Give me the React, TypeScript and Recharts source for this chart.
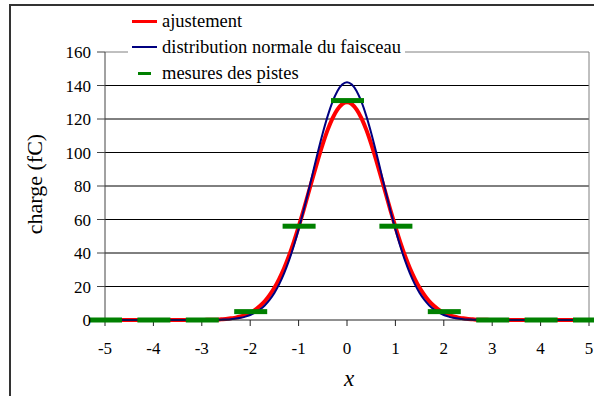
import { ComposedChart, Line, Scatter, XAxis, YAxis, CartesianGrid, ReferenceLine } from "recharts";

const xTicks = [-5, -4, -3, -2, -1, 0, 1, 2, 3, 4, 5];
const yTicks = [0, 20, 40, 60, 80, 100, 120, 140, 160];

// x positions for the two curves
const curveX = [
  -5, -4, -3, -2.9, -2.8, -2.7, -2.6, -2.5, -2.4, -2.3, -2.2, -2.1, -2, -1.9, -1.8, -1.7, -1.6, -1.5, -1.4, -1.3, -1.2, -1.1,
  -1, -0.9, -0.8, -0.7, -0.6, -0.5, -0.4, -0.3, -0.2, -0.1, 0, 0.1, 0.2, 0.3, 0.4, 0.5, 0.6, 0.7, 0.8, 0.9, 1, 1.1, 1.2,
  1.3, 1.4, 1.5, 1.6, 1.7, 1.8, 1.9, 2, 2.1, 2.2, 2.3, 2.4, 2.5, 2.6, 2.7, 2.8, 2.9, 3, 4, 5,
];

// fit (red)
const fitY = [
  0, 0, 0, 0.1, 0.1, 0.2, 0.4, 0.6, 1.0, 1.4, 2.1, 3.1, 4.3, 6.0, 8.3, 11.1, 14.8, 19.2, 24.6, 30.9, 38.2, 46.5,
  55.6, 65.3, 75.5, 85.7, 95.7, 105.1, 113.5, 120.4, 125.6, 128.9, 130, 128.9, 125.6, 120.4, 113.5, 105.1, 95.7, 85.7, 75.5, 65.3, 55.6, 46.5, 38.2,
  30.9, 24.6, 19.2, 14.8, 11.1, 8.3, 6.0, 4.3, 3.1, 2.1, 1.4, 1.0, 0.6, 0.4, 0.2, 0.1, 0.1, 0, 0, 0,
];

// beam normal distribution (blue)
const beamY = [
  0, 0, 0, 0, 0.1, 0.1, 0.2, 0.3, 0.5, 0.9, 1.3, 2.0, 3.0, 4.4, 6.2, 8.7, 12.0, 16.2, 21.4, 27.8, 35.4, 44.2,
  54.1, 65.0, 76.6, 88.5, 100.4, 111.6, 121.7, 130.2, 136.6, 140.6, 142, 140.6, 136.6, 130.2, 121.7, 111.6, 100.4, 88.5, 76.6, 65.0, 54.1, 44.2, 35.4,
  27.8, 21.4, 16.2, 12.0, 8.7, 6.2, 4.4, 3.0, 2.0, 1.3, 0.9, 0.5, 0.3, 0.2, 0.1, 0.1, 0, 0, 0, 0,
];

// track measurements (green)
const trackX = [-5, -4, -3, -2, -1, 0, 1, 2, 3, 4, 5];
const trackY = [0, 0, 0, 5, 56, 131, 56, 5, 0, 0, 0];

const fitData = curveX.map((x, i) => ({ x, y: fitY[i] }));
const beamData = curveX.map((x, i) => ({ x, y: beamY[i] }));
const trackData = trackX.map((x, i) => ({ x, y: trackY[i] }));

const FONT = "Liberation Serif, Times New Roman, serif";

function Bar(props: any) {
  const { cx, cy } = props;
  return <rect x={cx - 16} y={cy - 2.5} width={33} height={5} fill="#008000" />;
}

function LegendBox() {
  const row = { display: "flex", alignItems: "center", height: 26 } as const;
  const text = { fontFamily: FONT, fontSize: 18.5, color: "#000", marginLeft: 5, whiteSpace: "nowrap" as const };
  return (
    <div style={{ position: "absolute", left: 128, top: 8, padding: "0 4px" }}>
      <div style={{ background: "#fff", margin: "0 -4px", padding: "0 4px" }}>
        <div style={row}>
          <div style={{ width: 25, height: 3, background: "#ff0000" }} />
          <span style={text}>ajustement</span>
        </div>
        <div style={row}>
          <div style={{ width: 25, height: 2, background: "#000080" }} />
          <span style={text}>distribution normale du faisceau</span>
        </div>
      </div>
      <div style={row}>
        <div style={{ width: 25, display: "flex", justifyContent: "center" }}>
          <div style={{ width: 13, height: 3, background: "#008000" }} />
        </div>
        <span style={text}>mesures des pistes</span>
      </div>
    </div>
  );
}

export default function App() {
  return (
    <div style={{ position: "relative", width: 594, height: 396, background: "#fff", overflow: "hidden", fontFamily: FONT }}>
      <style>{"body{margin:0}"}</style>
      <div
        style={{
          position: "absolute",
          left: 9,
          top: 4,
          width: 620,
          height: 420,
          borderLeft: "2px solid #333",
          borderTop: "2px solid #333",
          boxSizing: "border-box",
        }}
      />
      <ComposedChart
        width={594}
        height={396}
        margin={{ top: 52, right: 5, bottom: 46, left: 0 }}
        style={{ position: "absolute", left: 0, top: 0 }}
      >
        <CartesianGrid vertical={false} stroke="#000" strokeWidth={1} horizontalValues={yTicks.slice(1, 8)} />
        <ReferenceLine y={160} stroke="#808080" />
        <ReferenceLine x={5} stroke="#808080" />
        <XAxis
          type="number"
          dataKey="x"
          domain={[-5, 5]}
          ticks={xTicks}
          interval={0}
          allowDuplicatedCategory={false}
          stroke="#222"
          tickSize={6}
          tickMargin={16}
          tick={{ fill: "#000", fontFamily: FONT, fontSize: 17 }}
          label={{
            content: () => (
              <text x={349} y={386} textAnchor="middle" fontFamily={FONT} fontSize={23} fontStyle="italic" fill="#000">
                x
              </text>
            ),
          }}
        />
        <YAxis
          type="number"
          dataKey="y"
          domain={[0, 160]}
          ticks={yTicks}
          interval={0}
          width={105}
          stroke="#444"
          tickSize={8}
          tickMargin={6}
          tick={{ fill: "#000", fontFamily: FONT, fontSize: 17 }}
          label={{
            content: () => (
              <text
                x={42}
                y={184}
                transform="rotate(-90 42 184)"
                textAnchor="middle"
                fontFamily={FONT}
                fontSize={22}
                fill="#000"
              >
                charge (fC)
              </text>
            ),
          }}
        />
        <Line data={fitData} dataKey="y" type="monotone" stroke="#ff0000" strokeWidth={4} dot={false} isAnimationActive={false} />
        <Line data={beamData} dataKey="y" type="monotone" stroke="#000080" strokeWidth={2} dot={false} isAnimationActive={false} />
        <Scatter data={trackData} dataKey="y" shape={<Bar />} isAnimationActive={false} />
      </ComposedChart>
      <LegendBox />
    </div>
  );
}
